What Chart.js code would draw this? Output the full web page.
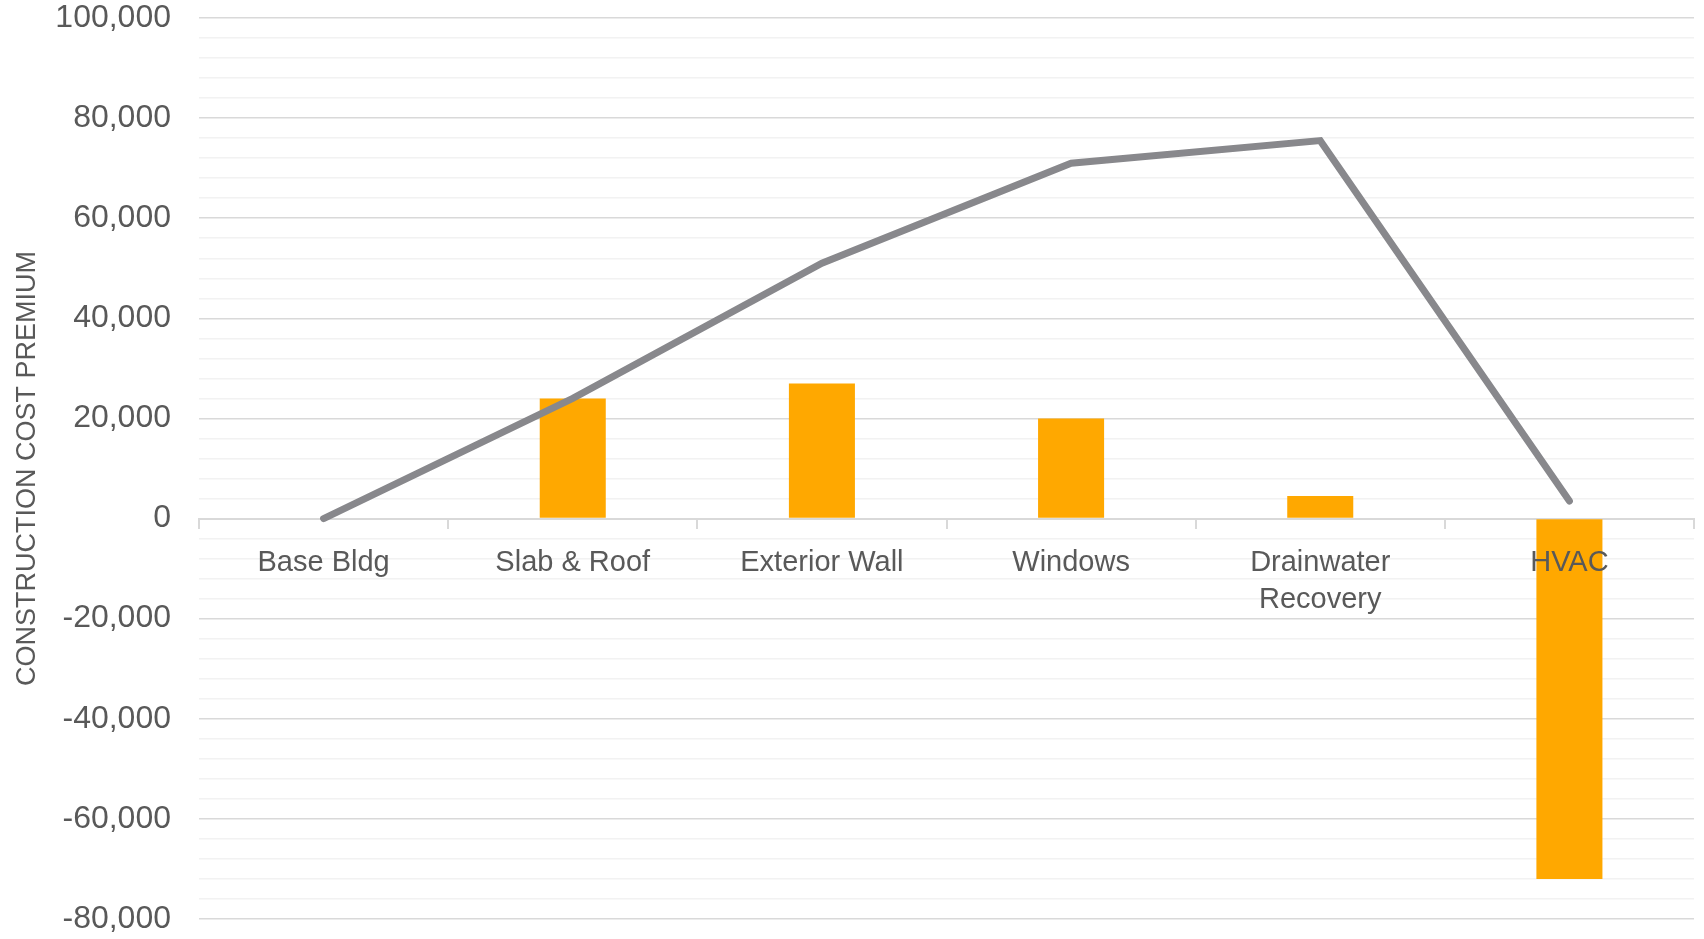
<!DOCTYPE html>
<html lang="en">
<head>
    <meta charset="UTF-8">
    <title>Construction Cost Premium</title>
    <script src="https://cdn.jsdelivr.net/npm/chart.js"></script>
    <style>
        html, body {
            margin: 0;
            padding: 0;
            background: #ffffff;
        }
        #wrap {
            width: 1704px;
            height: 939px;
        }
    </style>
</head>
<body>
    <div id="wrap"><canvas id="myChart"></canvas></div>

    <script>
        // data
        const categories = ['Base Bldg', 'Slab & Roof', 'Exterior Wall', 'Windows', ['Drainwater', 'Recovery'], 'HVAC'];
        const stepCosts = [null, 24000, 27000, 20000, 4500, -72000];
        const cumulativeCosts = [0, 24000, 51000, 71000, 75500, 3500];
        const yMin = -80000;
        const yMax = 100000;
        const majorStep = 20000;
        const minorStep = 4000;

        const fontFamily = '"Liberation Sans", Arial, sans-serif';
        const textColor = '#595959';

        const ctx = document.getElementById('myChart').getContext('2d');

        const myChart = new Chart(ctx, {
            data: {
                labels: categories,
                datasets: [
                    {
                        type: 'line',
                        data: cumulativeCosts,
                        borderColor: '#88888c',
                        borderWidth: 7,
                        borderCapStyle: 'round',
                        borderJoinStyle: 'miter',
                        pointRadius: 0,
                        tension: 0,
                        order: 0
                    },
                    {
                        type: 'bar',
                        data: stepCosts,
                        backgroundColor: '#ffa800',
                        barPercentage: 0.53,
                        categoryPercentage: 0.5,
                        order: 1
                    }
                ]
            },
            options: {
                responsive: true,
                maintainAspectRatio: false,
                animation: false,
                layout: {
                    padding: { top: 18, bottom: 20, right: 10, left: 0 }
                },
                plugins: {
                    legend: { display: false },
                    tooltip: { enabled: false }
                },
                scales: {
                    x: {
                        position: { y: 0 },
                        afterFit: (scale) => {
                            scale.paddingLeft = 0;
                            scale.paddingRight = 0;
                        },
                        grid: {
                            drawOnChartArea: false,
                            drawTicks: true,
                            tickLength: 9,
                            color: '#d9d9d9',
                            lineWidth: 2
                        },
                        border: { color: '#d9d9d9', width: 2 },
                        ticks: {
                            z: 1,
                            color: textColor,
                            font: { family: fontFamily, size: 29, lineHeight: 1.28 },
                            padding: 17,
                            maxRotation: 0,
                            autoSkip: false
                        }
                    },
                    y: {
                        min: yMin,
                        max: yMax,
                        afterFit: (scale) => {
                            scale.width = 199;
                            scale.paddingTop = 0;
                            scale.paddingBottom = 0;
                        },
                        afterBuildTicks: (scale) => {
                            const ticks = [];
                            for (let v = yMin; v <= yMax; v += minorStep) {
                                ticks.push({ value: v });
                            }
                            scale.ticks = ticks;
                        },
                        grid: {
                            drawTicks: false,
                            color: (c) => (c.tick && c.tick.value % majorStep === 0) ? '#d9d9d9' : '#f2f2f2',
                            lineWidth: 1.5
                        },
                        border: { display: false },
                        ticks: {
                            autoSkip: false,
                            padding: 28,
                            color: textColor,
                            font: { family: fontFamily, size: 32 },
                            callback: (value) => value % majorStep === 0 ? value.toLocaleString('en-US') : ''
                        },
                        title: {
                            display: true,
                            text: 'CONSTRUCTION COST PREMIUM',
                            color: textColor,
                            font: { family: fontFamily, size: 27, lineHeight: 1.2 },
                            padding: { top: 11, bottom: 0 }
                        }
                    }
                }
            }
        });
    </script>
</body>
</html>
